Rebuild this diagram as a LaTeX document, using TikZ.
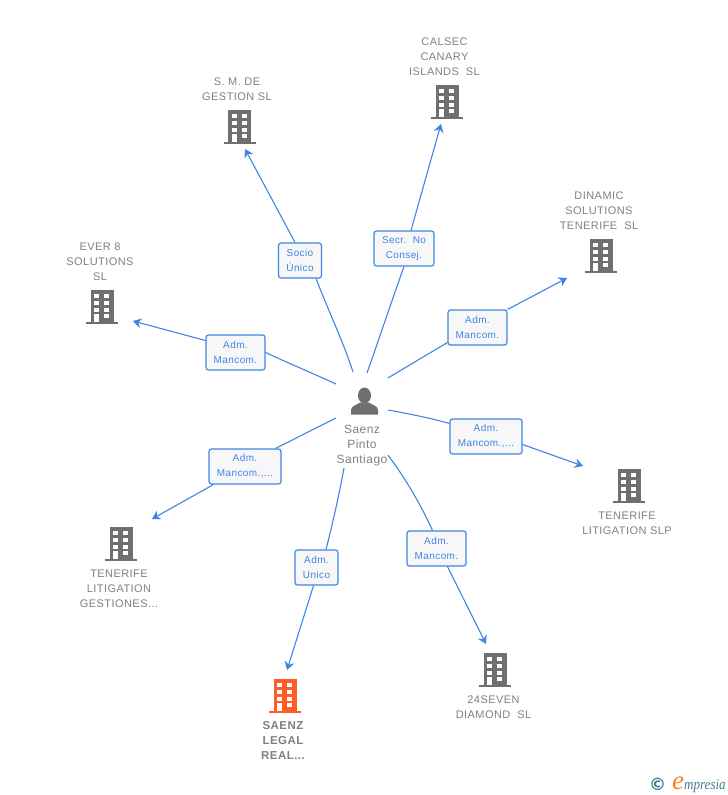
\documentclass[tikz,border=0pt]{standalone}
\usepackage{fontspec}
\setmainfont{Liberation Sans}
\newfontfamily\gapfont[LetterSpace=4]{Liberation Sans}
\newfontfamily\logofont{Liberation Serif}
\newfontfamily\symfont{DejaVu Sans}
\usetikzlibrary{arrows.meta}
\definecolor{linkblue}{HTML}{3F85E4}
\definecolor{iconGray}{HTML}{6F6F6F}
\definecolor{textGray}{HTML}{808080}
\definecolor{iconOrange}{HTML}{FF5C26}
\definecolor{logoBlue}{HTML}{3F7A8F}
\definecolor{logoOrange}{HTML}{F58220}
\tikzset{
  x=1pt,y=-1pt,
  pics/bld/.style={code={
    \fill[#1] (-11.5,-33) rectangle (11.5,-1);
    \fill[#1] (-16,-1.5) rectangle (16,1);
    \foreach \r in {-28.7,-22,-15.3}{
      \fill[white] (-7.8,\r) rectangle (-2.8,\r+4);
      \fill[white] (2.2,\r) rectangle (7.2,\r+4);
    }
    \fill[white] (-7.8,-8.7) rectangle (-2.8,-1.5);
    \fill[white] (2.2,-8.7) rectangle (7.2,-4.7);
  }},
  namebox/.style={font=\gapfont\fontsize{11}{15}\selectfont,text=textGray,align=center,inner sep=0pt},
  hubname/.style={font=\gapfont\fontsize{12}{15}\selectfont,text=textGray,align=center,inner sep=0pt},
  rolebox/.style={draw=linkblue,fill=black!3,line width=1.2pt,rounded corners=2.5pt,
    font=\gapfont\fontsize{10}{15}\selectfont,text=linkblue,align=center,inner sep=0pt,minimum height=35pt},
  link/.style={draw=linkblue,line width=1.1pt},
  linkarrow/.style={link,-{Stealth[length=8.5pt,width=10pt,inset=3pt]}},
}
\begin{document}
\begin{tikzpicture}
\useasboundingbox (0,0) rectangle (728,795);
% buildings
\pic at (239.5,143) {bld=iconGray};
\pic at (447,118) {bld=iconGray};
\pic at (601,272) {bld=iconGray};
\pic at (102,323) {bld=iconGray};
\pic at (629,502) {bld=iconGray};
\pic at (121,560) {bld=iconGray};
\pic at (495,686) {bld=iconGray};
\pic at (285,712) {bld=iconOrange};
% person
\fill[iconGray] (364.5,395.5) ellipse (6.5 and 8);
\fill[iconGray] (351,414.5) -- (351,410) .. controls (351,406) and (356,405.5) .. (360,402.5) -- (369,402.5) .. controls (373,405.5) and (378,406) .. (378,410) -- (378,414.5) -- cycle;
% names
\node[hubname] (hub) at (362,445.2) {Saenz\\Pinto\\Santiago};
\node[namebox] (n1) at (237,89.2) {S. M. DE\\GESTION SL};
\node[namebox] (n2) at (444.5,57) {CALSEC\\CANARY\\ISLANDS\ \ SL};
\node[namebox] (n3) at (599,211) {DINAMIC\\SOLUTIONS\\TENERIFE\ \ SL};
\node[namebox] (n4) at (100,261.8) {EVER 8\\SOLUTIONS\\SL};
\node[namebox] (n5) at (627,523.2) {TENERIFE\\LITIGATION SLP};
\node[namebox] (n6) at (119,588.8) {TENERIFE\\LITIGATION\\GESTIONES...};
\node[namebox] (n7) at (493.5,707.2) {24SEVEN\\DIAMOND\ \ SL};
\node[namebox,font=\gapfont\bfseries\fontsize{11.5}{15}\selectfont] (n8) at (283,740.5) {SAENZ\\LEGAL\\REAL...};
% role labels
\node[rolebox,minimum width=43pt] (r1) at (300,260.5) {Socio\\Único};
\node[rolebox,minimum width=60pt] (r2) at (404,248.5) {Secr.\ \ No\\Consej.};
\node[rolebox,minimum width=59pt] (r3) at (477.5,327.5) {Adm.\\Mancom.};
\node[rolebox,minimum width=72pt] (r4) at (486,436.5) {Adm.\\Mancom.,...};
\node[rolebox,minimum width=59pt] (r5) at (436.5,548.5) {Adm.\\Mancom.};
\node[rolebox,minimum width=43pt] (r6) at (316.5,567.5) {Adm.\\Unico};
\node[rolebox,minimum width=72pt] (r7) at (245,466.5) {Adm.\\Mancom.,...};
\node[rolebox,minimum width=59pt] (r8) at (235.5,352.5) {Adm.\\Mancom.};
% free ends
\coordinate (h1) at (353,372); \coordinate (t1) at (245,149);
\coordinate (h2) at (367,373); \coordinate (t2) at (441,124);
\coordinate (h3) at (388,378); \coordinate (t3) at (567,278);
\coordinate (h4) at (388,410); \coordinate (t4) at (583,466);
\coordinate (h5) at (388,455); \coordinate (t5) at (486,644);
\coordinate (h6) at (344,468); \coordinate (t6) at (287,670);
\coordinate (h7) at (336,418); \coordinate (t7) at (152,519);
\coordinate (h8) at (336,384); \coordinate (t8) at (133,321);
% connectors
\draw[link] (h1) .. controls (343,341) and (328,310) .. ([xshift=-6pt]r1.south east);
\draw[linkarrow] ([xshift=-5pt]r1.north) -- (t1);
\draw[link] (h2) .. controls (378,342) and (392,300) .. (r2.south);
\draw[linkarrow] ([xshift=7pt]r2.north) -- (t2);
\draw[link] (h3) .. controls (408,366) and (428,354) .. ([yshift=3pt]r3.south west);
\draw[linkarrow] (r3.north east) -- (t3);
\draw[link] (h4) .. controls (410,414) and (430,418) .. ([yshift=-5pt]r4.north west);
\draw[linkarrow] ([yshift=-8pt]r4.east) -- (t4);
\draw[link] (h5) .. controls (405,478) and (420,503) .. ([xshift=-4pt]r5.north);
\draw[linkarrow] ([xshift=11pt]r5.south) -- (t5);
\draw[link] (h6) .. controls (339,495) and (333,522) .. ([xshift=9.5pt]r6.north);
\draw[linkarrow] ([xshift=-3pt]r6.south) -- (t6);
\draw[link] (h7) -- ([xshift=-6pt]r7.north east);
\draw[linkarrow] ([xshift=5pt]r7.south west) -- (t7);
\draw[link] (h8) .. controls (312,373) and (288,363) .. (r8.east);
\draw[linkarrow] ([yshift=12pt]r8.west) -- (t8);
% logo
\node[inner sep=0pt,text=logoBlue,font=\symfont\bfseries\fontsize{17}{17}\selectfont] (logoc) at (657.5,784.5) {©};
\node[inner sep=0pt,anchor=base west,text=logoOrange,font=\logofont\itshape\fontsize{27}{27}\selectfont] (logoe) at (672,789.5) {e};
\node[inner sep=0pt,anchor=base west,xscale=.87,text=logoBlue,font=\logofont\itshape\fontsize{15}{15}\selectfont] (logot) at (684,789) {mpresia};
\end{tikzpicture}
\end{document}
